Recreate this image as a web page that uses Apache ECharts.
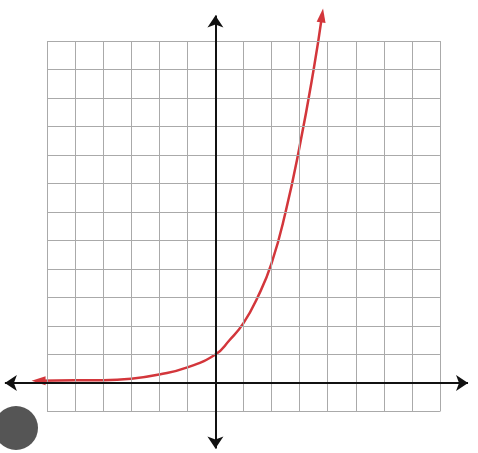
<!DOCTYPE html>
<html>
<head>
<meta charset="UTF-8" />
<style>* {padding:0;margin:0;} body{background:#fff;}</style>
<script src="https://cdn.jsdelivr.net/npm/echarts@6/dist/echarts.min.js"></script>
</head>
<body>
<div id="main" style="width:478px;height:453px;"></div>
<script>
var gridX = [-6, -5, -4, -3, -2, -1, 0, 1, 2, 3, 4, 5, 6, 7, 8];
var gridY = [-1, 0, 1, 2, 3, 4, 5, 6, 7, 8, 9, 10, 11, 12];
var curveX = [-6.3, -5, -4, -3, -2, -1, 0, 0.5, 1, 1.5, 2, 2.5, 3, 3.5, 3.8];
var curveY = [0.08, 0.1, 0.1, 0.15, 0.3, 0.55, 1, 1.5, 2.1, 3, 4.2, 6, 8.3, 11, 12.9];
var axisEnds = { xFrom: -7.5, xTo: 9.0, yFrom: -2.3, yTo: 12.9 };

var gridLines = [];
gridX.forEach(function (x) { gridLines.push([{ coord: [x, gridY[0]] }, { coord: [x, gridY[gridY.length - 1]] }]); });
gridY.forEach(function (y) { gridLines.push([{ coord: [gridX[0], y] }, { coord: [gridX[gridX.length - 1], y] }]); });

var curve = curveX.map(function (x, i) { return { value: [x, curveY[i]], symbol: 'none' }; });
curve[0].symbol = 'triangle'; curve[0].symbolRotate = 90; curve[0].symbolSize = [9, 14];
curve[curve.length - 1].symbol = 'triangle'; curve[curve.length - 1].symbolRotate = -8; curve[curve.length - 1].symbolSize = [9, 14];

var chart = echarts.init(document.getElementById('main'));
chart.setOption({
  animation: false,
  grid: { left: 0, right: 0, top: 0, bottom: 0 },
  xAxis: { type: 'value', min: -7.674, max: 9.355, show: false },
  yAxis: { type: 'value', min: -2.456, max: 13.44, show: false },
  graphic: [{ type: 'circle', shape: { cx: 16, cy: 428, r: 22 }, style: { fill: '#555' } }],
  series: [
    {
      type: 'line', data: [], silent: true,
      markLine: { silent: true, symbol: 'none', label: { show: false },
        lineStyle: { color: '#aaa', width: 1, type: 'solid' }, data: gridLines }
    },
    {
      type: 'line', data: [], silent: true,
      markLine: { silent: true, symbol: ['arrow', 'arrow'], symbolSize: 12, label: { show: false },
        lineStyle: { color: '#111', width: 2, type: 'solid' },
        data: [
          [{ coord: [axisEnds.xFrom, 0] }, { coord: [axisEnds.xTo, 0] }],
          [{ coord: [0, axisEnds.yFrom] }, { coord: [0, axisEnds.yTo] }]
        ] }
    },
    {
      type: 'line', data: curve, smooth: true, showSymbol: true,
      itemStyle: { color: '#d3363b' },
      lineStyle: { color: '#d3363b', width: 2.5 }
    }
  ]
});
</script>
</body>
</html>
